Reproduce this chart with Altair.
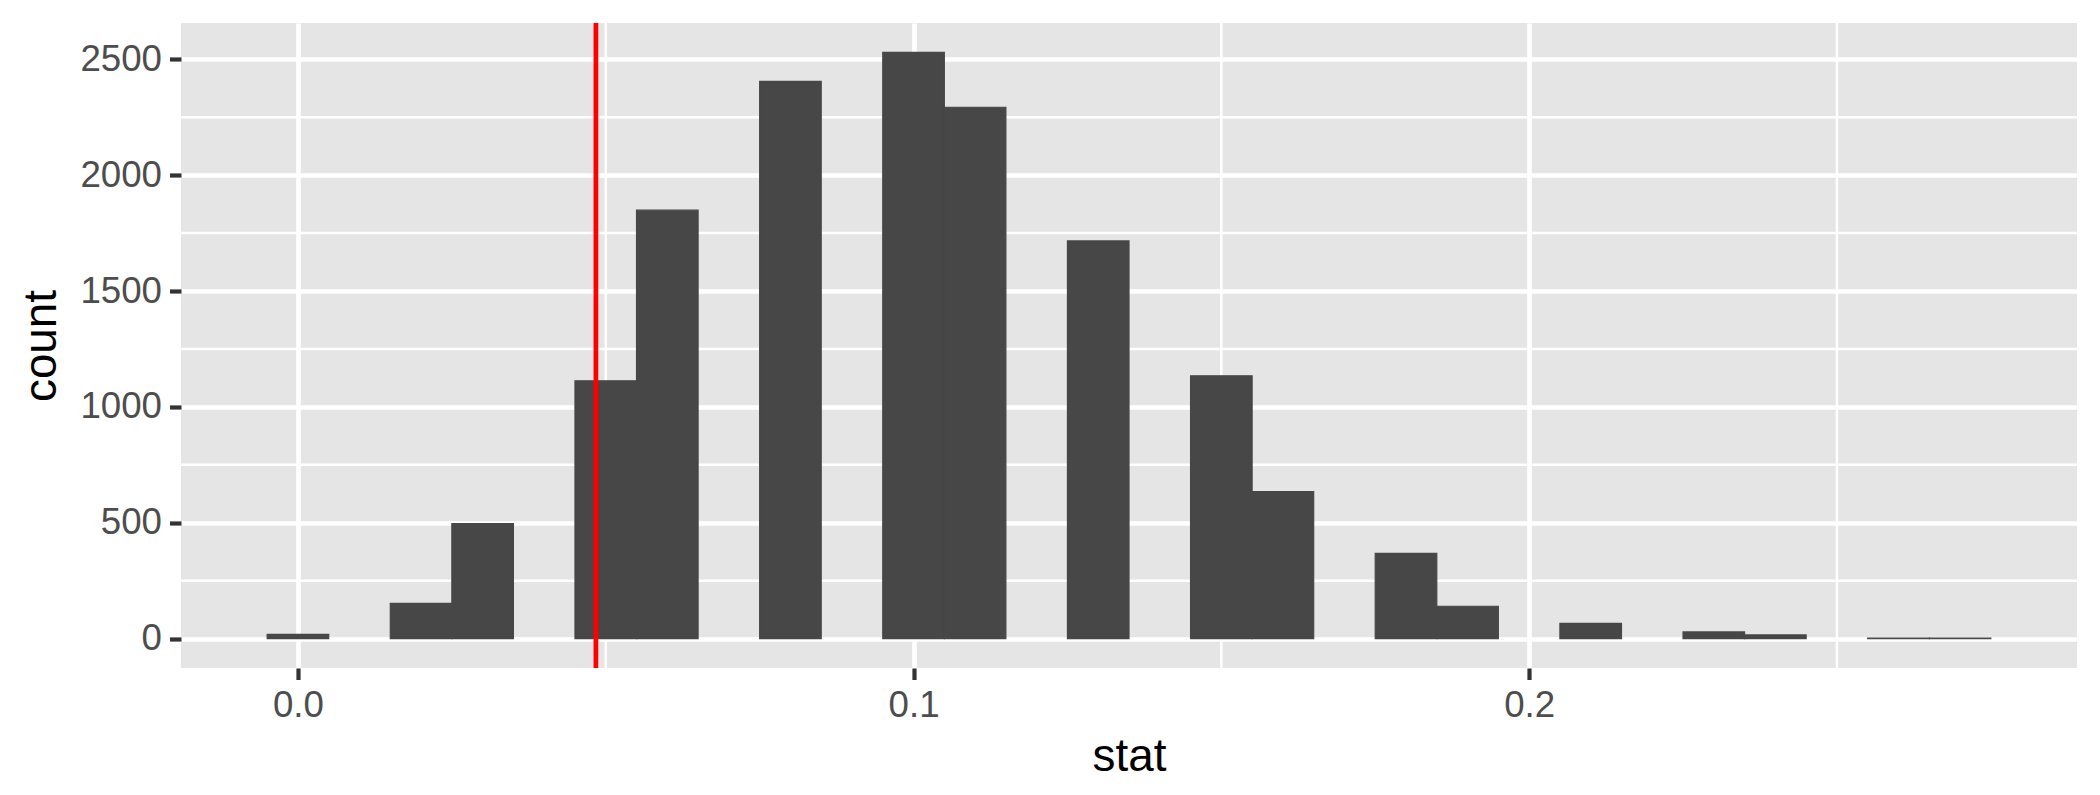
import altair as alt
import pandas as pd

# Histogram bins (centres, binwidth 0.01) and counts
bin_centers = [0.00, 0.02, 0.03, 0.05, 0.06, 0.08, 0.10, 0.11, 0.13,
               0.15, 0.16, 0.18, 0.19, 0.21, 0.23, 0.24, 0.26, 0.27]
counts = [19, 152, 497, 1113, 1849, 2405, 2530, 2293, 1716,
          1134, 635, 368, 140, 66, 29, 16, 3, 3]
BINWIDTH = 0.01

# Observed statistic (red line)
obs_stat = 0.0484

# Axis ticks
x_ticks = [0.0, 0.1, 0.2]
y_ticks = [0, 500, 1000, 1500, 2000, 2500]
x_minor = [0.05, 0.15, 0.25]
y_minor = [250, 750, 1250, 1750, 2250]

x_domain = [-0.019, 0.289]
y_domain = [-126.5, 2656.5]

df = pd.DataFrame({"center": bin_centers, "count": counts})
df["bin_start"] = df["center"] - BINWIDTH / 2
df["bin_end"] = df["center"] + BINWIDTH / 2

FONT = "Liberation Sans"

xscale = alt.Scale(domain=x_domain, nice=False, zero=False)
yscale = alt.Scale(domain=y_domain, nice=False, zero=False)

minor_x = alt.Chart(pd.DataFrame({"v": x_minor})).mark_rule(
    color="white", strokeWidth=2.5
).encode(x=alt.X("v:Q", scale=xscale))

minor_y = alt.Chart(pd.DataFrame({"v": y_minor})).mark_rule(
    color="white", strokeWidth=2.5
).encode(y=alt.Y("v:Q", scale=yscale))

bars = alt.Chart(df).mark_rect(
    color="#474747", stroke="#474747", strokeWidth=1.2
).encode(
    x=alt.X(
        "bin_start:Q",
        scale=xscale,
        title="stat",
        axis=alt.Axis(
            values=x_ticks, format=".1f", grid=True, gridColor="white",
            gridWidth=4.7, domain=False, tickColor="#333333", tickSize=11.5,
            tickWidth=4.2, labelFont=FONT, labelFontSize=36.7,
            labelColor="#4D4D4D", labelPadding=8, titleFont=FONT,
            titleFontSize=45.8, titleFontWeight="normal", titleColor="black",
            titlePadding=10,
        ),
    ),
    x2="bin_end:Q",
    y=alt.Y(
        "count:Q",
        scale=yscale,
        title="count",
        axis=alt.Axis(
            values=y_ticks, format="d", grid=True, gridColor="white",
            gridWidth=4.7, domain=False, tickColor="#333333", tickSize=11.5,
            tickWidth=4.2, labelFont=FONT, labelFontSize=36.7,
            labelColor="#4D4D4D", labelPadding=8, titleFont=FONT,
            titleFontSize=45.8, titleFontWeight="normal", titleColor="black",
            titlePadding=14,
        ),
    ),
    y2=alt.datum(0),
)

vline = alt.Chart(pd.DataFrame({"stat": [obs_stat]})).mark_rule(
    color="#FF0000", strokeWidth=4.7
).encode(x=alt.X("stat:Q", scale=xscale))

chart = alt.layer(minor_x, minor_y, bars, vline).properties(
    width=1896,
    height=645,
    autosize="none",
    padding={"left": 173, "top": 15, "right": 15, "bottom": 120},
    background="white",
).configure_view(fill="#E5E5E5", stroke=None)

chart.save("out.html", embed_options={"renderer": "svg", "actions": False})
